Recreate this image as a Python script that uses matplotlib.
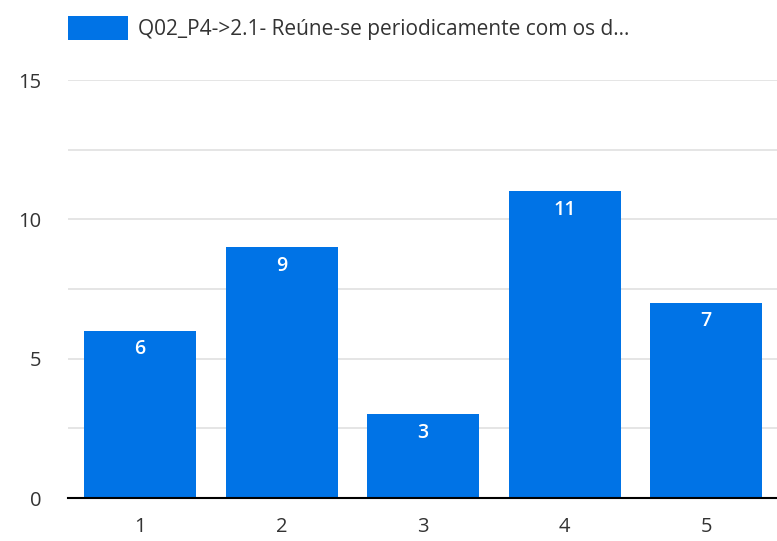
import matplotlib.pyplot as plt

# Data
categories = ["1", "2", "3", "4", "5"]
counts = [6, 9, 3, 11, 7]
series_name = "Q02_P4->2.1- Reúne-se periodicamente com os d..."

plt.rcParams['font.family'] = ['Open Sans', 'DejaVu Sans']

fig = plt.figure(figsize=(7.77, 5.41), dpi=100)
ax = fig.add_axes([68 / 777, 43 / 541, 709 / 777, 418 / 541])

x = list(range(1, len(categories) + 1))
bars = ax.bar(x, counts, width=0.79, color='#0073E6', label=series_name, zorder=3)

for b, v in zip(bars, counts):
    ax.text(b.get_x() + b.get_width() / 2, v - 0.3, str(v), ha='center', va='top',
            color='white', fontsize=14, fontweight='semibold', zorder=4)

ax.set_xlim(0.49, 5.5)
ax.set_ylim(0, 15)
ax.set_xticks(x)
ax.set_xticklabels(categories)
ax.set_yticks([0, 5, 10, 15])
ax.set_yticks([2.5, 7.5, 12.5], minor=True)
ax.grid(axis='y', which='both', color='#e0e0e0', linewidth=1.2, zorder=0)
ax.tick_params(axis='both', which='both', length=0, labelsize=14.5, colors='#333333')
ax.tick_params(axis='y', pad=19)
ax.tick_params(axis='x', pad=14)
for s in ['top', 'right', 'left']:
    ax.spines[s].set_visible(False)
ax.spines['bottom'].set_color('black')
ax.spines['bottom'].set_linewidth(1.5)
ax.spines['bottom'].set_zorder(5)

leg = ax.legend(loc='lower left', bbox_to_anchor=(0.0, 1.095), frameon=False,
                fontsize=15, handlelength=2.9, handleheight=1.4, handletextpad=0.45,
                borderaxespad=0, borderpad=0)
for t in leg.get_texts():
    t.set_color('#333333')

fig.savefig('out.png', dpi=100)
